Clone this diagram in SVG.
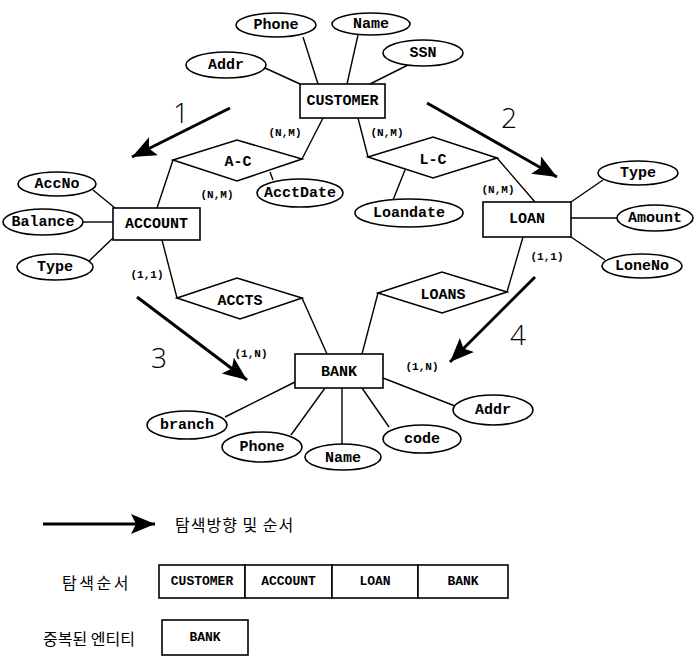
<svg xmlns="http://www.w3.org/2000/svg" width="695" height="660" viewBox="0 0 695 660">
<defs>
<marker id="ah" markerUnits="userSpaceOnUse" markerWidth="26" markerHeight="22" refX="24" refY="10" orient="auto">
<path d="M0,0 L24,10 L0,20 L5,10 z" fill="#000"/>
</marker>
<style>
.e{fill:#fff;stroke:#000;stroke-width:1.6}
.r{fill:#fff;stroke:#000;stroke-width:1.6}
.c{stroke:#000;stroke-width:1.4;fill:none}
.a{stroke:#000;stroke-width:3;fill:none}
.t{font-family:"Liberation Mono","Courier New",monospace;font-weight:bold;font-size:15px;text-anchor:middle;dominant-baseline:central;fill:#000}
.s{font-family:"Liberation Mono","Courier New",monospace;font-weight:bold;font-size:11px;text-anchor:middle;dominant-baseline:central;fill:#000}
.m{font-family:"Liberation Mono","Courier New",monospace;font-weight:bold;font-size:13px;text-anchor:middle;dominant-baseline:central;fill:#000}
.n{font-family:"Open Sans","Liberation Sans",Arial,sans-serif;font-weight:300;font-size:28px;text-anchor:middle;dominant-baseline:central;fill:#000}
.k{font-family:"Noto Sans CJK KR","Noto Sans",sans-serif;font-size:16px;dominant-baseline:central;fill:#000}
</style>
</defs>
<rect width="695" height="660" fill="#fff"/>
<g id="connectors">
<line class="c" x1="265" y1="68" x2="300" y2="84"/>
<line class="c" x1="303" y1="37" x2="318" y2="84"/>
<line class="c" x1="358" y1="35" x2="347" y2="84"/>
<line class="c" x1="410" y1="64" x2="370" y2="84"/>
<line class="c" x1="323" y1="118" x2="302" y2="159"/>
<line class="c" x1="358" y1="118" x2="368" y2="157"/>
<line class="c" x1="270" y1="172" x2="273" y2="180"/>
<line class="c" x1="405" y1="170" x2="393" y2="200"/>
<line class="c" x1="157" y1="208" x2="173" y2="160"/>
<line class="c" x1="535" y1="202" x2="497" y2="158"/>
<line class="c" x1="93" y1="190" x2="115" y2="208"/>
<line class="c" x1="83" y1="222" x2="113" y2="222"/>
<line class="c" x1="88" y1="262" x2="113" y2="238"/>
<line class="c" x1="603" y1="180" x2="571" y2="202"/>
<line class="c" x1="617" y1="218" x2="571" y2="218"/>
<line class="c" x1="605" y1="260" x2="571" y2="237"/>
<line class="c" x1="162" y1="240" x2="177" y2="298"/>
<line class="c" x1="302" y1="298" x2="327" y2="354"/>
<line class="c" x1="378" y1="293" x2="362" y2="354"/>
<line class="c" x1="523" y1="237" x2="507" y2="292"/>
<line class="c" x1="225" y1="417" x2="295" y2="382"/>
<line class="c" x1="291" y1="435" x2="325" y2="388"/>
<line class="c" x1="342" y1="444" x2="342" y2="388"/>
<line class="c" x1="389" y1="427" x2="362" y2="388"/>
<line class="c" x1="455" y1="406" x2="383" y2="378"/>
<line class="a" x1="230" y1="108" x2="132" y2="157" marker-end="url(#ah)"/>
<line class="a" x1="427" y1="103" x2="557" y2="177" marker-end="url(#ah)"/>
<line class="a" x1="137" y1="297" x2="247" y2="380" marker-end="url(#ah)"/>
<line class="a" x1="535" y1="277" x2="450" y2="362" marker-end="url(#ah)"/>
<line class="a" x1="43" y1="524" x2="155" y2="524" stroke-width="2.5" marker-end="url(#ah)"/>
</g>
<g id="CUSTOMER"><rect class="r" x="300" y="84" width="85" height="34"/><text class="t" x="342.5" y="101">CUSTOMER</text></g>
<g id="c-phone"><ellipse class="e" cx="276" cy="25" rx="40" ry="12"/><text class="t" x="276" y="25">Phone</text></g>
<g id="c-name"><ellipse class="e" cx="371" cy="24" rx="39" ry="11"/><text class="t" x="371" y="24">Name</text></g>
<g id="c-ssn"><ellipse class="e" cx="423" cy="53" rx="40" ry="13"/><text class="t" x="423" y="53">SSN</text></g>
<g id="c-addr"><ellipse class="e" cx="226" cy="65" rx="40" ry="13"/><text class="t" x="226" y="65">Addr</text></g>
<g id="AC"><polygon class="r" points="173,160 237,140 302,159 237,181"/><text class="t" x="238" y="162">A-C</text></g>
<g id="LC"><polygon class="r" points="368,157 433,137 497,158 433,178"/><text class="t" x="433" y="160">L-C</text></g>
<g id="acctdate"><ellipse class="e" cx="300" cy="193" rx="43" ry="14"/><text class="t" x="300" y="193">AcctDate</text></g>
<g id="loandate"><ellipse class="e" cx="409" cy="213" rx="54" ry="14"/><text class="t" x="409" y="213">Loandate</text></g>
<g id="ACCOUNT"><rect class="r" x="113" y="208" width="87" height="32"/><text class="t" x="156.5" y="224">ACCOUNT</text></g>
<g id="accno"><ellipse class="e" cx="57" cy="184" rx="39" ry="12"/><text class="t" x="57" y="184">AccNo</text></g>
<g id="balance"><ellipse class="e" cx="43" cy="222" rx="40" ry="13"/><text class="t" x="43" y="222">Balance</text></g>
<g id="a-type"><ellipse class="e" cx="55" cy="267" rx="38" ry="13"/><text class="t" x="55" y="267">Type</text></g>
<g id="LOAN"><rect class="r" x="483" y="202" width="88" height="35"/><text class="t" x="527" y="219.5">LOAN</text></g>
<g id="l-type"><ellipse class="e" cx="638" cy="173" rx="40" ry="12"/><text class="t" x="638" y="173">Type</text></g>
<g id="amount"><ellipse class="e" cx="655" cy="218" rx="38" ry="13"/><text class="t" x="655" y="218">Amount</text></g>
<g id="loneno"><ellipse class="e" cx="642" cy="266" rx="40" ry="12"/><text class="t" x="642" y="266">LoneNo</text></g>
<g id="ACCTS"><polygon class="r" points="177,298 237,278 302,298 240,319"/><text class="t" x="240" y="301">ACCTS</text></g>
<g id="LOANS"><polygon class="r" points="378,293 442,272 507,292 442,313"/><text class="t" x="443" y="295">LOANS</text></g>
<g id="BANK"><rect class="r" x="295" y="354" width="88" height="34"/><text class="t" x="339" y="372">BANK</text></g>
<g id="branch"><ellipse class="e" cx="187" cy="425" rx="40" ry="14"/><text class="t" x="187" y="425">branch</text></g>
<g id="b-phone"><ellipse class="e" cx="262" cy="447" rx="40" ry="15"/><text class="t" x="262" y="447">Phone</text></g>
<g id="b-name"><ellipse class="e" cx="343" cy="457" rx="38" ry="13"/><text class="t" x="343" y="458">Name</text></g>
<g id="code"><ellipse class="e" cx="422" cy="439" rx="39" ry="14"/><text class="t" x="422" y="439">code</text></g>
<g id="b-addr"><ellipse class="e" cx="493" cy="410" rx="40" ry="15"/><text class="t" x="493" y="410">Addr</text></g>
<g id="cardinalities">
<text class="s" x="285" y="133">(N,M)</text>
<text class="s" x="387" y="133">(N,M)</text>
<text class="s" x="217" y="195">(N,M)</text>
<text class="s" x="498" y="190">(N,M)</text>
<text class="s" x="147" y="275">(1,1)</text>
<text class="s" x="547" y="257">(1,1)</text>
<text class="s" x="251" y="354">(1,N)</text>
<text class="s" x="422" y="367">(1,N)</text>
</g>
<g id="order-numbers">
<text class="n" x="181" y="112">1</text>
<text class="n" x="509" y="117">2</text>
<text class="n" x="159" y="357">3</text>
<text class="n" x="518" y="334">4</text>
</g>
<g id="legend">
<text class="k" x="175" y="524" letter-spacing="1">탐색방향 및 순서</text>
<text class="k" x="62" y="582" letter-spacing="2.5">탐색순서</text>
<rect class="r" x="159" y="565" width="86" height="33"/><text class="m" x="202" y="581.5">CUSTOMER</text>
<rect class="r" x="245" y="565" width="87" height="33"/><text class="m" x="288.5" y="581.5">ACCOUNT</text>
<rect class="r" x="332" y="565" width="86" height="33"/><text class="m" x="375" y="581.5">LOAN</text>
<rect class="r" x="418" y="565" width="90" height="33"/><text class="m" x="463" y="581.5">BANK</text>
<text class="k" x="43" y="638">중복된 엔티티</text>
<rect class="r" x="162" y="620" width="86" height="35"/><text class="m" x="205" y="637.5">BANK</text>
</g>
</svg>
